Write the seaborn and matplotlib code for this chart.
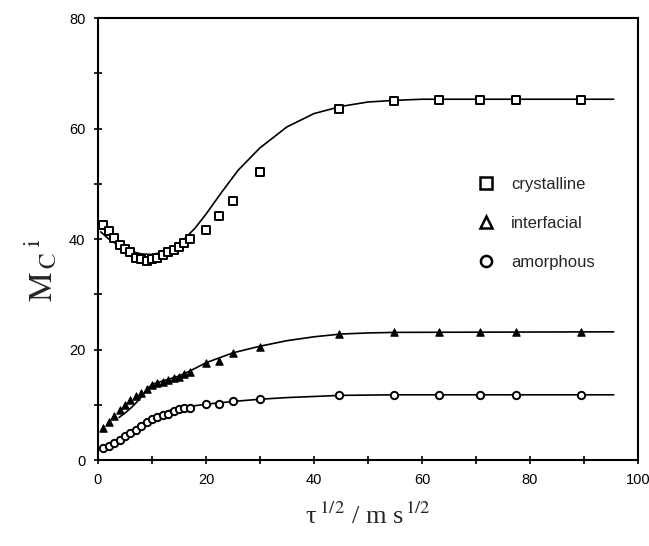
import numpy as np
import pandas as pd
import matplotlib
matplotlib.use("Agg")
import matplotlib.pyplot as plt
from matplotlib.lines import Line2D
import seaborn as sns

# measured points (x = tau^1/2)
t_pts = [1, 2, 3, 4, 5, 6, 7, 8, 9, 10, 11, 12, 13, 14, 15, 16, 17,
         20, 22.4, 25, 30, 44.7, 54.8, 63.2, 70.7, 77.5, 89.4]
crystalline = [42.5, 41.5, 40.1, 39.0, 38.2, 37.6, 36.6, 36.3, 36.0, 36.3, 36.6, 37.1, 37.6, 38.1, 38.6, 39.2, 40.0,
               41.7, 44.2, 46.8, 52.2, 63.5, 64.9, 65.1, 65.1, 65.1, 65.1]
interfacial = [5.8, 6.8, 7.9, 9.1, 10.0, 10.8, 11.5, 12.2, 12.9, 13.5, 13.9, 14.2, 14.5, 14.8, 15.1, 15.5, 15.9,
               17.5, 17.9, 19.4, 20.5, 22.8, 23.1, 23.2, 23.2, 23.2, 23.2]
amorphous = [2.1, 2.5, 3.1, 3.7, 4.3, 4.9, 5.5, 6.2, 6.8, 7.4, 7.7, 8.1, 8.4, 8.9, 9.3, 9.4, 9.5,
             10.1, 10.1, 10.6, 11.0, 11.7, 11.8, 11.8, 11.8, 11.8, 11.8]

# fitted curves
cry_fit_t = [0.5, 2, 4, 6, 8, 10, 12, 14, 16, 18, 20, 23, 26, 30, 35, 40, 45, 50, 55, 60, 70, 95.5]
cry_fit_y = [41.3, 40.0, 38.7, 37.8, 37.3, 37.2, 37.6, 38.6, 40.0, 42.0, 44.5, 48.6, 52.5, 56.5, 60.3, 62.7, 64.0,
             64.8, 65.1, 65.3, 65.3, 65.3]
int_fit_t = [3.9, 5, 6.2, 7.2, 8.1, 9.3, 10, 12, 15, 17, 20, 25, 30, 35, 40, 45, 50, 55, 95.5]
int_fit_y = [7.7, 8.5, 9.5, 10.5, 11.5, 13.0, 13.7, 14.3, 15.2, 16.1, 17.6, 19.4, 20.6, 21.6, 22.3, 22.8, 23.0,
             23.1, 23.2]
amo_fit_t = [1, 3, 5, 7, 9, 11, 13, 15, 17, 20, 25, 30, 35, 40, 45, 55, 95.5]
amo_fit_y = [1.9, 3.0, 4.3, 5.8, 7.1, 8.1, 8.9, 9.4, 9.7, 10.1, 10.6, 11.0, 11.3, 11.5, 11.7, 11.8, 11.8]

labels = ["crystalline", "interfacial", "amorphous"]

sns.set_theme(style="ticks")
plt.rcParams["font.family"] = ["Liberation Sans", "DejaVu Sans"]
plt.rcParams["mathtext.fontset"] = "stix"

fig = plt.figure(figsize=(6.49, 5.46), dpi=100)
ax = fig.add_axes([0.151, 0.1575, 0.832, 0.8095])

for t, y in [(cry_fit_t, cry_fit_y), (int_fit_t, int_fit_y), (amo_fit_t, amo_fit_y)]:
    sns.lineplot(x=t, y=y, ax=ax, color="black", linewidth=1.2, sort=False, estimator=None, zorder=2)

sns.scatterplot(x=t_pts, y=crystalline, ax=ax, marker="s", s=30, facecolor="white",
                edgecolor="black", linewidth=1.4, zorder=3)
sns.scatterplot(x=t_pts, y=interfacial, ax=ax, marker="^", s=28, color="black",
                edgecolor="black", linewidth=0.8, zorder=3)
sns.scatterplot(x=t_pts, y=amorphous, ax=ax, marker="o", s=28, facecolor="white",
                edgecolor="black", linewidth=1.4, zorder=3)

handles = [
    Line2D([], [], linestyle="none", marker="s", markersize=8, markerfacecolor="white",
           markeredgecolor="black", markeredgewidth=1.8),
    Line2D([], [], linestyle="none", marker="^", markersize=8, markerfacecolor="white",
           markeredgecolor="black", markeredgewidth=1.8),
    Line2D([], [], linestyle="none", marker="o", markersize=8, markerfacecolor="white",
           markeredgecolor="black", markeredgewidth=1.8),
]
ax.legend(handles, labels, loc="upper left", bbox_to_anchor=(0.675, 0.675), frameon=False,
          fontsize=12, handletextpad=1.0, labelspacing=1.45, handlelength=1.0)

ax.set_xlim(0, 100)
ax.set_ylim(0, 80)
ax.set_xticks(np.arange(0, 101, 20))
ax.set_xticks(np.arange(0, 101, 10), minor=True)
ax.set_yticks(np.arange(0, 81, 20))
ax.set_yticks(np.arange(0, 81, 10), minor=True)
ax.tick_params(which="both", direction="inout", length=6, width=1.2, colors="black", labelsize=10.5, pad=6)
for sp in ax.spines.values():
    sp.set_linewidth(1.5)
    sp.set_color("black")

ax.set_xlabel(r"τ$^{\;1/2}$ / m s$^{\,1/2}$", fontsize=19, labelpad=12,
              family=["Liberation Serif", "DejaVu Serif"])
ax.set_ylabel(r"$\mathrm{M}_{\,\mathrm{C}}{}^{\;\mathrm{i}}$", fontsize=24)
ax.yaxis.set_label_coords(-0.07, 0.43)

fig.savefig("out.png", dpi=100)
